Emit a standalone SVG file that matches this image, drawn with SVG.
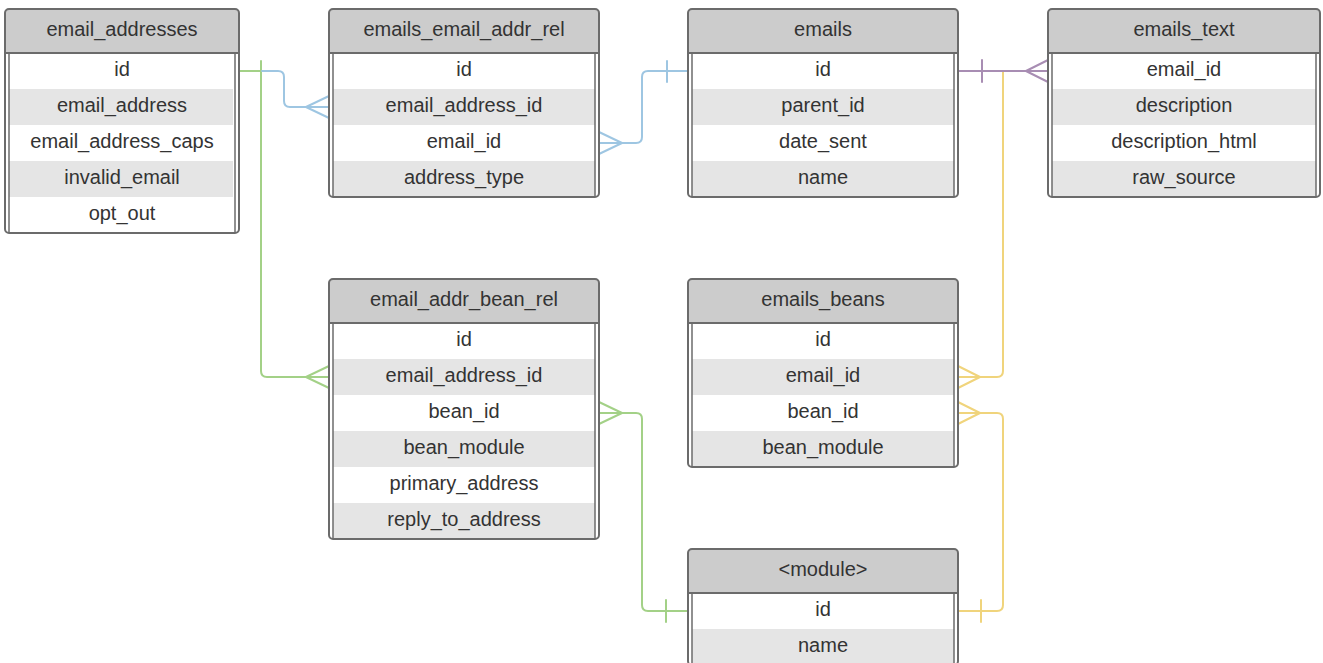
<svg xmlns="http://www.w3.org/2000/svg" width="1323" height="663" viewBox="0 0 1323 663">
<style>
.hd{fill:#cccccc}
.body{fill:#ffffff}
.alt{fill:#e5e5e5}
.frame{fill:none;stroke:#6b6b6b;stroke-width:2}
.inner{stroke:#6b6b6b;stroke-width:1.5}
.sep{stroke:#6b6b6b;stroke-width:2}
text{font-family:"Liberation Sans",Arial,sans-serif;font-size:20px;fill:#333333;text-anchor:middle}
.c{fill:none;stroke-width:2;stroke-linecap:round;stroke-linejoin:round}
.blue{stroke:#9ec6e2}
.green{stroke:#a3d187}
.purple{stroke:#a88db3}
.yellow{stroke:#f0d47c}
</style>
<rect width="1323" height="663" fill="#ffffff"/>

<g id="connectors">
  <g class="c green">
    <path d="M239,71 H261 V371 Q261,377 267,377 H329"/>
    <path d="M261,61 V81"/>
    <path d="M329,366 L306,377 L329,388"/>
    <path d="M599,413 H636 Q642,413 642,419 V605 Q642,611 648,611 H688"/>
    <path d="M599,402 L622,413 L599,424"/>
    <path d="M666,600 V622"/>
  </g>
  <g class="c blue">
    <path d="M262,71 H278 Q284,71 284,77 V101 Q284,107 290,107 H329"/>
    <path d="M329,96 L306,107 L329,118"/>
    <path d="M599,143 H636 Q642,143 642,137 V77 Q642,71 648,71 H688"/>
    <path d="M599,132 L622,143 L599,154"/>
    <path d="M667,61 V82"/>
  </g>
  <g class="c yellow">
    <path d="M1003,72 V371 Q1003,377 997,377 H958"/>
    <path d="M958,366 L980,377 L958,388"/>
    <path d="M958,413 H997 Q1003,413 1003,419 V605 Q1003,611 997,611 H958"/>
    <path d="M958,402 L980,413 L958,424"/>
    <path d="M981,600 V622"/>
  </g>
  <g class="c purple">
    <path d="M958,71 H1048"/>
    <path d="M982,60 V82"/>
    <path d="M1048,60 L1026,71 L1048,82"/>
  </g>
</g>

<g id="email_addresses">
  <rect class="hd" x="5" y="9" width="234" height="224" rx="4"/>
  <rect class="body" x="6" y="53" width="232" height="180"/>
  <rect class="alt" x="9" y="89" width="224" height="36"/>
  <rect class="alt" x="9" y="161" width="224" height="36"/>
  <line class="inner" x1="9" y1="53" x2="9" y2="233"/>
  <line class="inner" x1="235" y1="53" x2="235" y2="233"/>
  <line class="sep" x1="5" y1="53" x2="239" y2="53"/>
  <rect class="frame" x="5" y="9" width="234" height="224" rx="4"/>
  <text x="122" y="36">email_addresses</text>
  <text x="122" y="76">id</text>
  <text x="122" y="112">email_address</text>
  <text x="122" y="148">email_address_caps</text>
  <text x="122" y="184">invalid_email</text>
  <text x="122" y="220">opt_out</text>
</g>

<g id="emails_email_addr_rel">
  <rect class="hd" x="329" y="9" width="270" height="188" rx="4"/>
  <rect class="body" x="330" y="53" width="268" height="144"/>
  <rect class="alt" x="333" y="89" width="262" height="36"/>
  <rect class="alt" x="333" y="161" width="262" height="36"/>
  <line class="inner" x1="333" y1="53" x2="333" y2="197"/>
  <line class="inner" x1="595" y1="53" x2="595" y2="197"/>
  <line class="sep" x1="329" y1="53" x2="599" y2="53"/>
  <rect class="frame" x="329" y="9" width="270" height="188" rx="4"/>
  <text x="464" y="36">emails_email_addr_rel</text>
  <text x="464" y="76">id</text>
  <text x="464" y="112">email_address_id</text>
  <text x="464" y="148">email_id</text>
  <text x="464" y="184">address_type</text>
</g>

<g id="emails">
  <rect class="hd" x="688" y="9" width="270" height="188" rx="4"/>
  <rect class="body" x="689" y="53" width="268" height="144"/>
  <rect class="alt" x="692" y="89" width="262" height="36"/>
  <rect class="alt" x="692" y="161" width="262" height="36"/>
  <line class="inner" x1="692" y1="53" x2="692" y2="197"/>
  <line class="inner" x1="954" y1="53" x2="954" y2="197"/>
  <line class="sep" x1="688" y1="53" x2="958" y2="53"/>
  <rect class="frame" x="688" y="9" width="270" height="188" rx="4"/>
  <text x="823" y="36">emails</text>
  <text x="823" y="76">id</text>
  <text x="823" y="112">parent_id</text>
  <text x="823" y="148">date_sent</text>
  <text x="823" y="184">name</text>
</g>

<g id="emails_text">
  <rect class="hd" x="1048" y="9" width="272" height="188" rx="4"/>
  <rect class="body" x="1049" y="53" width="270" height="144"/>
  <rect class="alt" x="1052" y="89" width="264" height="36"/>
  <rect class="alt" x="1052" y="161" width="264" height="36"/>
  <line class="inner" x1="1052" y1="53" x2="1052" y2="197"/>
  <line class="inner" x1="1316" y1="53" x2="1316" y2="197"/>
  <line class="sep" x1="1048" y1="53" x2="1320" y2="53"/>
  <rect class="frame" x="1048" y="9" width="272" height="188" rx="4"/>
  <text x="1184" y="36">emails_text</text>
  <text x="1184" y="76">email_id</text>
  <text x="1184" y="112">description</text>
  <text x="1184" y="148">description_html</text>
  <text x="1184" y="184">raw_source</text>
</g>

<g id="email_addr_bean_rel">
  <rect class="hd" x="329" y="279" width="270" height="260" rx="4"/>
  <rect class="body" x="330" y="323" width="268" height="216"/>
  <rect class="alt" x="333" y="359" width="262" height="36"/>
  <rect class="alt" x="333" y="431" width="262" height="36"/>
  <rect class="alt" x="333" y="503" width="262" height="36"/>
  <line class="inner" x1="333" y1="323" x2="333" y2="539"/>
  <line class="inner" x1="595" y1="323" x2="595" y2="539"/>
  <line class="sep" x1="329" y1="323" x2="599" y2="323"/>
  <rect class="frame" x="329" y="279" width="270" height="260" rx="4"/>
  <text x="464" y="306">email_addr_bean_rel</text>
  <text x="464" y="346">id</text>
  <text x="464" y="382">email_address_id</text>
  <text x="464" y="418">bean_id</text>
  <text x="464" y="454">bean_module</text>
  <text x="464" y="490">primary_address</text>
  <text x="464" y="526">reply_to_address</text>
</g>

<g id="emails_beans">
  <rect class="hd" x="688" y="279" width="270" height="188" rx="4"/>
  <rect class="body" x="689" y="323" width="268" height="144"/>
  <rect class="alt" x="692" y="359" width="262" height="36"/>
  <rect class="alt" x="692" y="431" width="262" height="36"/>
  <line class="inner" x1="692" y1="323" x2="692" y2="467"/>
  <line class="inner" x1="954" y1="323" x2="954" y2="467"/>
  <line class="sep" x1="688" y1="323" x2="958" y2="323"/>
  <rect class="frame" x="688" y="279" width="270" height="188" rx="4"/>
  <text x="823" y="306">emails_beans</text>
  <text x="823" y="346">id</text>
  <text x="823" y="382">email_id</text>
  <text x="823" y="418">bean_id</text>
  <text x="823" y="454">bean_module</text>
</g>

<g id="module">
  <rect class="hd" x="688" y="549" width="270" height="116" rx="4"/>
  <rect class="body" x="689" y="593" width="268" height="72"/>
  <rect class="alt" x="692" y="629" width="262" height="36"/>
  <line class="inner" x1="692" y1="593" x2="692" y2="665"/>
  <line class="inner" x1="954" y1="593" x2="954" y2="665"/>
  <line class="sep" x1="688" y1="593" x2="958" y2="593"/>
  <rect class="frame" x="688" y="549" width="270" height="116" rx="4"/>
  <text x="823" y="576">&lt;module&gt;</text>
  <text x="823" y="616">id</text>
  <text x="823" y="652">name</text>
</g>
</svg>
